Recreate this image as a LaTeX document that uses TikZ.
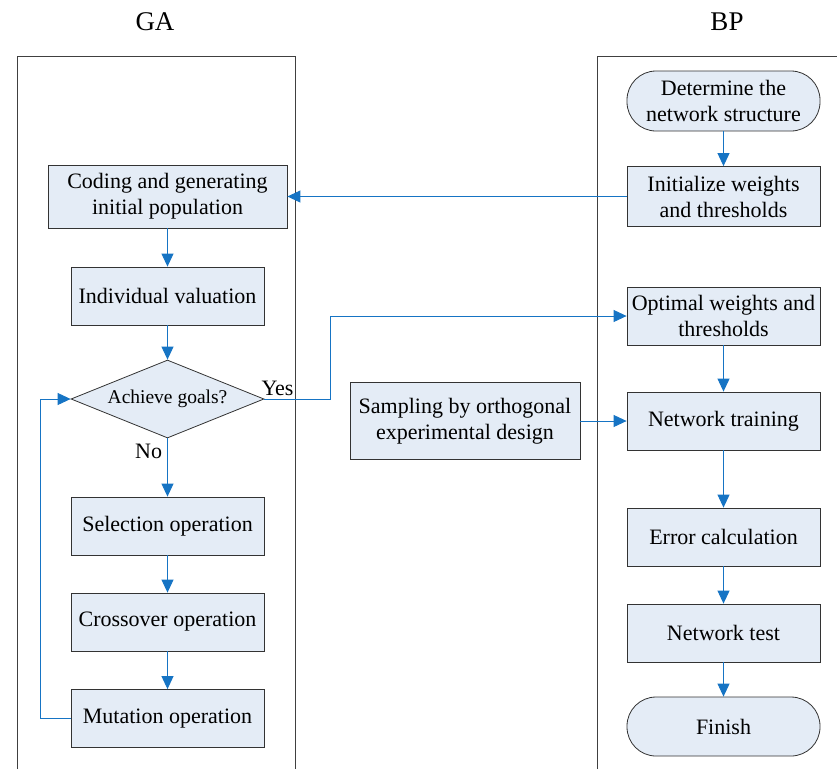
\documentclass[tikz,border=0pt]{standalone}
\usepackage{fontspec}
\setmainfont{Liberation Serif}
\usetikzlibrary{shapes.geometric,arrows.meta}
\definecolor{boxfill}{RGB}{228,236,246}
\definecolor{flowblue}{RGB}{22,116,196}
\def\galane{(17,769) -- (17,56) -- (295,56) -- (295,769)}
\def\bplane{(597,769) -- (597,56) -- (845,56)}

\begin{document}
\begin{tikzpicture}[x=1pt,y=-1pt,
    every node/.style={font=\fontsize{22}{26}\selectfont},
    procbox/.style={draw=black!80, fill=boxfill, line width=0.8pt, minimum width=193pt,
        minimum height=58pt, align=center, inner sep=2pt},
    termbox/.style={procbox, rounded corners=29pt, minimum height=60pt},
    decision/.style={diamond, draw=black!80, fill=boxfill, line width=0.8pt, aspect=2.47,
        minimum width=193pt, minimum height=78pt, inner sep=0pt, font=\fontsize{19.5}{23}\selectfont},
    flow/.style={draw=flowblue, line width=0.9pt, -{Triangle[length=13pt,width=12pt]}},
    lanetitle/.style={font=\fontsize{27}{30}\selectfont}]
    \useasboundingbox (0,0) rectangle (837,769);
    % swim lanes
    \draw[black!75, line width=0.9pt] \galane;
    \draw[black!75, line width=0.9pt] \bplane;
    \node[lanetitle] (gatitle) at (155,22) {GA};
    \node[lanetitle] (bptitle) at (727,22) {BP};

    % GA side
    \node[procbox, minimum width=239pt, minimum height=63pt] (coding) at (167.5,196.5) {Coding and generating\\initial population};
    \node[procbox] (valuation) at (167.5,296) {Individual valuation};
    \node[decision] (goals) at (167.5,399) {Achieve goals?};
    \node[procbox] (selection) at (167.5,526) {Selection operation};
    \node[procbox] (crossover) at (167.5,622) {Crossover operation};
    \node[procbox] (mutation) at (167.5,718.5) {Mutation operation};

    % BP side
    \node[termbox] (structure) at (723.5,101) {Determine the\\network structure};
    \node[procbox, minimum height=60pt] (initialize) at (723.5,196.5) {Initialize weights\\and thresholds};
    \node[procbox] (optimal) at (723.5,316) {Optimal weights and\\thresholds};
    \node[procbox] (training) at (723.5,421) {Network training};
    \node[procbox, minimum width=230pt, minimum height=77pt] (sampling) at (465,421) {Sampling by orthogonal\\experimental design};
    \node[procbox] (error) at (723.5,537) {Error calculation};
    \node[procbox] (test) at (723.5,633) {Network test};
    \node[termbox, minimum height=59pt] (finish) at (723.5,726.5) {Finish};

    % connectors
    \coordinate (loopturn) at (40,718.5);
    \coordinate (yesturn) at (330,399);
    \draw[flow] (structure) -- (initialize);
    \draw[flow] (initialize) -- (coding);
    \draw[flow] (coding) -- (valuation);
    \draw[flow] (valuation) -- (goals);
    \draw[flow] (goals) -- node[left, pos=0.22, inner sep=5pt] {No} (selection);
    \draw[flow] (selection) -- (crossover);
    \draw[flow] (crossover) -- (mutation);
    \draw[flow] (mutation.west) -- (loopturn) |- (goals.west);
    \draw[flow] (goals.east) -- node[above, pos=0.2, inner sep=3pt] {Yes} (yesturn) |- (optimal.west);
    \draw[flow] (optimal) -- (training);
    \draw[flow] (sampling) -- (training);
    \draw[flow] (training) -- (error);
    \draw[flow] (error) -- (test);
    \draw[flow] (test) -- (finish);
\end{tikzpicture}
\end{document}
